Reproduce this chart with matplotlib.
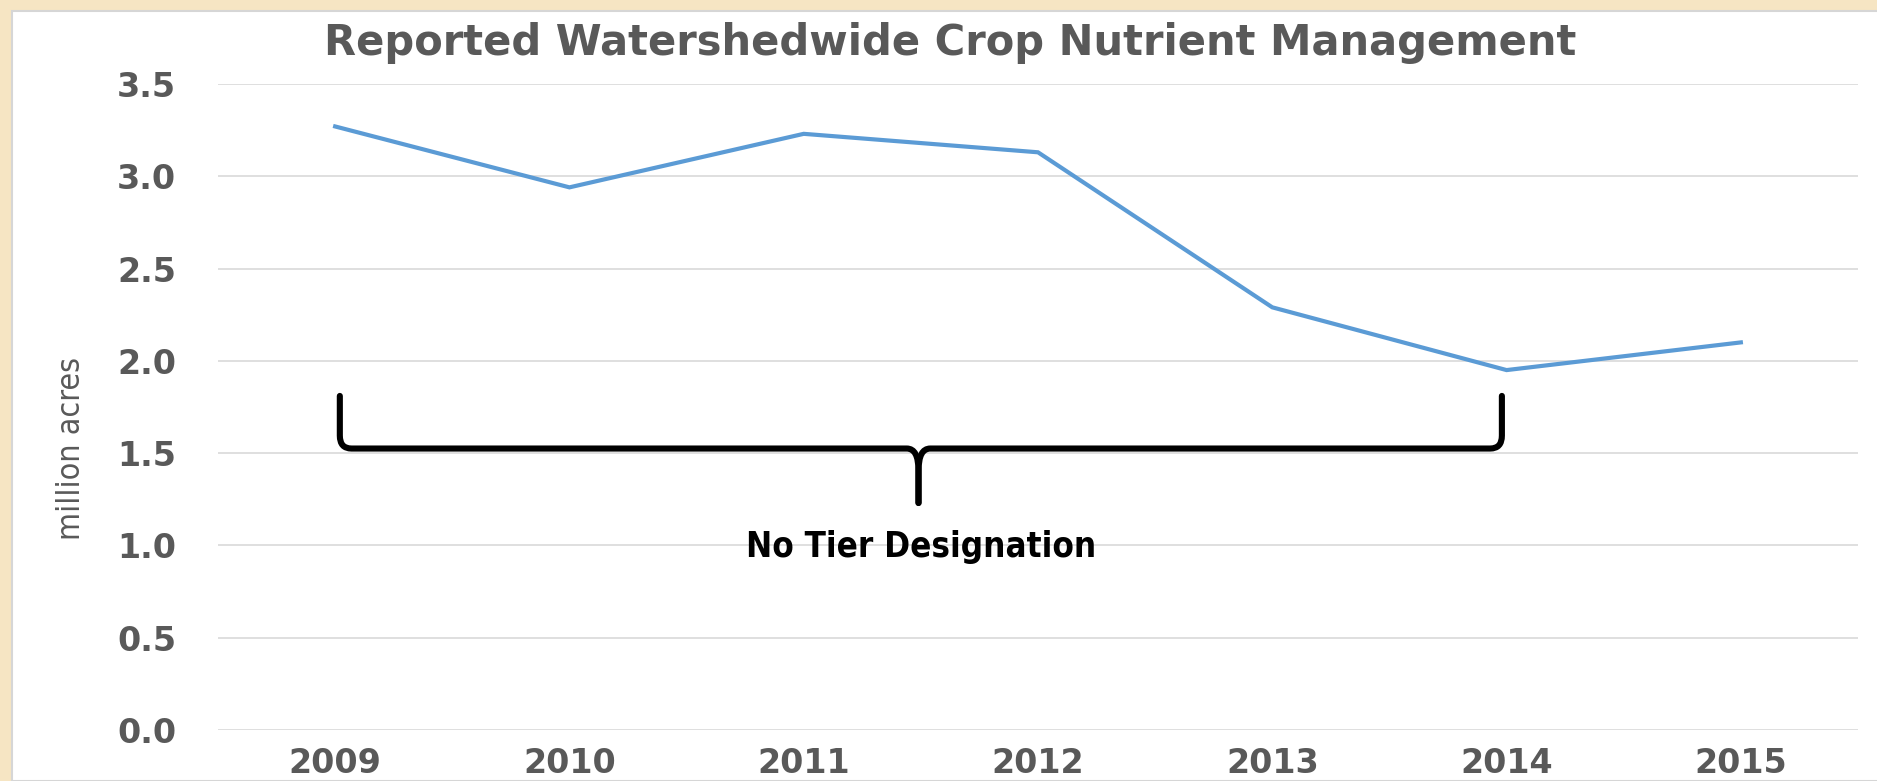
import matplotlib
matplotlib.use("Agg")
from matplotlib import pyplot as plt
from matplotlib.path import Path
from matplotlib.patches import PathPatch, Rectangle

years = ["2009", "2010", "2011", "2012", "2013", "2014", "2015"]
acres = [3.27, 2.94, 3.23, 3.13, 2.29, 1.95, 2.10]
y_ticks = [0.0, 0.5, 1.0, 1.5, 2.0, 2.5, 3.0, 3.5]

grey_text = "#595959"
line_blue = "#5B9BD5"

fig = plt.figure(figsize=(18.77, 7.81), dpi=100, facecolor="#F6E5C3")
fig.patches.append(Rectangle((12 / 1877, 0), 1, (781 - 11) / 781, transform=fig.transFigure,
                             facecolor="white", edgecolor="#D6D6D6", linewidth=1.5, zorder=-5))

ax = fig.add_axes([218 / 1877, 1 - 730 / 781, (1858 - 218) / 1877, (730 - 84) / 781])
ax.set_facecolor("none")
ax.set_zorder(2)

x = list(range(len(years)))
ax.plot(x, acres, color=line_blue, linewidth=3.0, solid_joinstyle="miter", zorder=3)

ax.set_xlim(-0.5, len(years) - 0.5)
ax.set_ylim(0, 3.5)
ax.set_yticks(y_ticks)
ax.set_yticklabels([f"{v:.1f}" for v in y_ticks])
ax.set_xticks(x)
ax.set_xticklabels(years)
ax.grid(axis="y", color="#D9D9D9", linewidth=1.2)
ax.set_axisbelow(True)
for s in ax.spines.values():
    s.set_visible(False)
ax.tick_params(axis="both", length=0, colors=grey_text, labelsize=24)
ax.tick_params(axis="y", pad=30)
ax.tick_params(axis="x", pad=12)
for lab in ax.get_xticklabels() + ax.get_yticklabels():
    lab.set_fontweight("bold")
    lab.set_fontfamily("DejaVu Sans")

# brace under 2009-2014
left_x, right_x, mid_x = 0.02, 4.98, 2.49
top_y, bar_y, tip_y = 1.81, 1.525, 1.23
verts_l = [(left_x, top_y), (left_x, bar_y + 0.07), (left_x, bar_y), (left_x + 0.05, bar_y),
           (mid_x - 0.05, bar_y), (mid_x, bar_y), (mid_x, bar_y - 0.12), (mid_x, tip_y)]
codes = [Path.MOVETO, Path.LINETO, Path.CURVE3, Path.CURVE3,
         Path.LINETO, Path.CURVE3, Path.CURVE3, Path.LINETO]
verts_r = [(right_x, top_y), (right_x, bar_y + 0.07), (right_x, bar_y), (right_x - 0.05, bar_y),
           (mid_x + 0.05, bar_y), (mid_x, bar_y), (mid_x, bar_y - 0.12), (mid_x, tip_y)]
for v in (verts_l, verts_r):
    ax.add_patch(PathPatch(Path(v, codes), facecolor="none", edgecolor="black",
                           linewidth=4.4, capstyle="round", joinstyle="round", zorder=4))

ax.text(2.5, 0.99, "No Tier Designation", ha="center", va="center", fontsize=25,
        fontweight="bold", family="DejaVu Sans", fontstretch="condensed", color="black")

fig.text(0.506, 1 - 55 / 781, "Reported Watershedwide Crop Nutrient Management",
         ha="center", va="baseline", fontsize=30, fontweight="bold",
         family="DejaVu Sans", color=grey_text)
fig.text(72 / 1877, 1 - 449 / 781, "million acres", rotation=90, ha="center", va="center",
         fontsize=23, family="DejaVu Sans", fontstretch="condensed", color=grey_text)

fig.savefig("out.png", dpi=100, facecolor=fig.get_facecolor())
